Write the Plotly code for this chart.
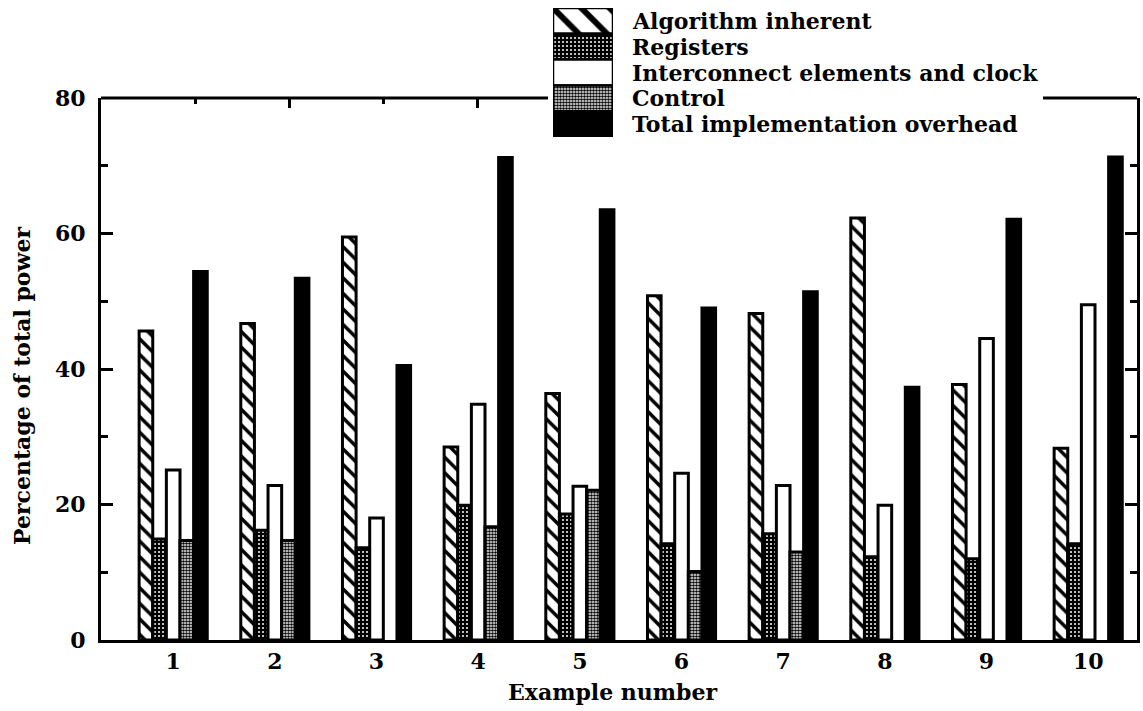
import plotly.graph_objects as go

# Power breakdown per example (percentage of total power)
examples = [1, 2, 3, 4, 5, 6, 7, 8, 9, 10]
algorithm_inherent = [45.6, 46.7, 59.5, 28.5, 36.4, 50.8, 48.2, 62.3, 37.7, 28.3]
registers = [14.9, 16.2, 13.6, 19.9, 18.6, 14.2, 15.7, 12.3, 12.0, 14.2]
interconnect_clock = [25.1, 22.8, 18.0, 34.8, 22.7, 24.6, 22.8, 19.9, 44.5, 49.5]
control = [14.7, 14.7, None, 16.7, 22.1, 10.1, 13.0, None, None, None]
total_overhead = [54.4, 53.4, 40.5, 71.2, 63.5, 49.0, 51.4, 37.3, 62.1, 71.3]

series_names = [
    "Algorithm inherent",
    "Registers",
    "Interconnect elements and clock",
    "Control",
    "Total implementation overhead",
]
series_values = [algorithm_inherent, registers, interconnect_clock, control, total_overhead]

y_ticks = [0, 20, 40, 60, 80]
y_minor_ticks = [10, 30, 50, 70]

W, H = 1143, 711
FONT = "DejaVu Serif"

# fill style for each series
styles = [
    dict(color="white", pattern=dict(shape="\\", fgcolor="black", bgcolor="white",
                                     size=11, solidity=0.32, fillmode="replace")),
    dict(color="black", pattern=dict(shape=".", fgcolor="white", bgcolor="black",
                                     size=4, solidity=0.2, fillmode="replace")),
    dict(color="white", pattern=None),
    dict(color="white", pattern=dict(shape=".", fgcolor="black", bgcolor="white",
                                     size=3, solidity=0.6, fillmode="replace")),
    dict(color="black", pattern=None),
]

fig = go.Figure()

for name, vals, st in zip(series_names, series_values, styles):
    marker = dict(color=st["color"], line=dict(color="black", width=3))
    if st["pattern"]:
        marker["pattern"] = st["pattern"]
    fig.add_trace(go.Bar(
        x=examples, y=vals, name=name, marker=marker,
        showlegend=False, xaxis="x", yaxis="y",
    ))

# key: a column of swatches drawn on a small inset axis, top entry first
legend_swatch_styles = [
    dict(color="white", pattern=dict(shape="\\", fgcolor="black", bgcolor="white",
                                     size=20, solidity=0.3, fillmode="replace")),
    styles[1], styles[2], styles[3], styles[4],
]
n = len(series_names)
for i, (name, st) in enumerate(zip(series_names, legend_swatch_styles)):
    marker = dict(color=st["color"], line=dict(color="black", width=2.5))
    if st["pattern"]:
        marker["pattern"] = st["pattern"]
    fig.add_trace(go.Bar(
        x=[0], y=[1], base=[n - 1 - i], width=[1], offsetgroup="key",
        marker=marker, showlegend=False, hoverinfo="skip",
        xaxis="x3", yaxis="y3",
    ))

# invisible carrier for the top tick axis
fig.add_trace(go.Scatter(x=[0], y=[0], mode="markers", marker=dict(opacity=0),
                         showlegend=False, hoverinfo="skip", xaxis="x2", yaxis="y"))

x0, x1 = 101 / W, 1137 / W
y0, y1 = (H - 640) / H, (H - 98) / H

annotations = []
for i, name in enumerate(series_names):
    annotations.append(dict(
        text=name, x=630 / W, xref="paper", xanchor="left",
        y=n - 0.5 - i, yref="y3", yanchor="middle", showarrow=False,
        font=dict(family=FONT, size=22, color="black", weight="bold"),
    ))
annotations.append(dict(
    text="Example number", x=612 / W, y=(H - 692) / H, xref="paper", yref="paper",
    xanchor="center", yanchor="middle", showarrow=False,
    font=dict(family=FONT, size=22, color="black", weight="bold"),
))
annotations.append(dict(
    text="Percentage of total power", x=22 / W, y=(H - 386) / H, xref="paper",
    yref="paper", textangle=-90, xanchor="center", yanchor="middle", showarrow=False,
    font=dict(family=FONT, size=22, color="black", weight="bold"),
))

tick_font = dict(family=FONT, size=22, color="black", weight="bold")

fig.update_layout(
    template="none",
    width=W, height=H, autosize=False,
    margin=dict(l=0, r=0, t=0, b=0, pad=0, autoexpand=False),
    paper_bgcolor="white", plot_bgcolor="white",
    barmode="group", bargap=0.33, bargroupgap=0,
    showlegend=False,
    xaxis=dict(
        domain=[x0, x1], range=[0.29, 10.48], tickvals=examples,
        ticktext=[str(e) for e in examples], ticks="", showgrid=False,
        zeroline=False, showline=True, linecolor="black", linewidth=3,
        tickfont=tick_font, ticklabelstandoff=0, anchor="y", automargin=False,
    ),
    xaxis2=dict(
        overlaying="x", side="top", range=[0, 11], anchor="y", automargin=False,
        tickvals=[2, 4], ticks="inside", ticklen=10, tickwidth=2.5, tickcolor="black",
        minor=dict(tickvals=[1, 3], ticks="inside", ticklen=6, tickwidth=2.5,
                   tickcolor="black"),
        showticklabels=False, showgrid=False, zeroline=False, showline=False,
    ),
    yaxis=dict(
        domain=[y0, y1], range=[0, 80], tickvals=y_ticks, ticks="inside",
        ticklen=12, tickwidth=2.5, tickcolor="black",
        minor=dict(tickvals=y_minor_ticks, ticks="inside", ticklen=7, tickwidth=2.5,
                   tickcolor="black"),
        mirror="ticks", showgrid=False, zeroline=False, showline=True,
        linecolor="black", linewidth=3, tickfont=tick_font, ticklabelstandoff=8,
        anchor="x", automargin=False,
    ),
    xaxis3=dict(domain=[553 / W, 613 / W], range=[-0.5, 0.5], visible=False,
                anchor="y3", fixedrange=True, automargin=False),
    yaxis3=dict(domain=[(H - 137) / H, (H - 8) / H], range=[0, n], visible=False,
                anchor="x3", fixedrange=True, automargin=False),
    annotations=annotations,
    shapes=[
        dict(type="line", xref="paper", yref="paper", x0=x0, x1=548 / W, y0=y1, y1=y1,
             line=dict(color="black", width=3)),
        dict(type="line", xref="paper", yref="paper", x0=1043 / W, x1=x1, y0=y1, y1=y1,
             line=dict(color="black", width=3)),
    ],
)

fig.write_html("out.html")
